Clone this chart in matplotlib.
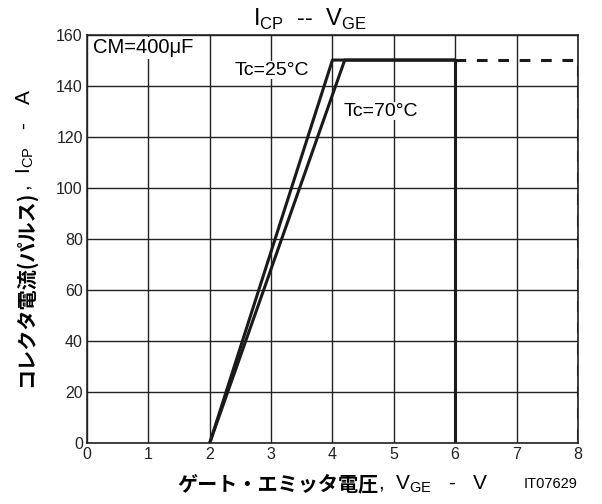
import numpy as np
import matplotlib
matplotlib.use("Agg")
import matplotlib.pyplot as plt

plt.rcParams['font.family'] = ['Liberation Sans', 'Noto Sans CJK JP', 'DejaVu Sans']

# curve data (V_GE in V, I_CP in A)
vge_25 = [2.0, 4.0, 6.0]
icp_25 = [0, 150, 150]
vge_70 = [2.0, 4.2, 6.0]
icp_70 = [0, 150, 150]
vge_limit = [6.0, 6.0]
icp_limit = [150, 0]
vge_dash = [6.0, 8.0, 8.0]
icp_dash = [150, 150, 0]

x_ticks = [0, 1, 2, 3, 4, 5, 6, 7, 8]
y_ticks = [0, 20, 40, 60, 80, 100, 120, 140, 160]

fig = plt.figure(figsize=(6.02, 5.04), dpi=100)
ax = fig.add_axes([0.1445, 0.121, 0.8155, 0.8105])

ax.plot(vge_25, icp_25, color='#1a1a1a', lw=2.2, solid_capstyle='butt')
ax.plot(vge_70, icp_70, color='#1a1a1a', lw=2.2, solid_capstyle='butt')
ax.plot(vge_limit, icp_limit, color='#1a1a1a', lw=2.2, solid_capstyle='butt')
ax.plot(vge_dash, icp_dash, color='#1a1a1a', lw=2.2, linestyle=(0, (3.5, 3.5)))

ax.set_xlim(0, 8)
ax.set_ylim(0, 160)
ax.set_xticks(x_ticks)
ax.set_yticks(y_ticks)
ax.tick_params(length=0, labelsize=11.5, pad=3, colors='#222222')
ax.grid(True, color='#222222', lw=1.0)
for s in ax.spines.values():
    s.set_color('#222222')
    s.set_linewidth(1.2)

ax.text(0.1, 158.5, 'CM=400\u03bcF', fontsize=14.5, va='top', ha='left',
        bbox=dict(facecolor='white', edgecolor='none', pad=1.0))
ax.text(2.4, 146, 'Tc=25\u00b0C', fontsize=14, va='center', ha='left',
        bbox=dict(facecolor='white', edgecolor='none', pad=0.3))
ax.text(4.19, 130, 'Tc=70\u00b0C', fontsize=14, va='center', ha='left',
        bbox=dict(facecolor='white', edgecolor='none', pad=0.3))

fig.text(0.515, 0.962, r'I$_{\mathregular{CP}}$  --  V$_{\mathregular{GE}}$',
         fontsize=17, ha='center', va='center')

# x label: bold Japanese part then plain symbol part
xl1 = fig.text(177 / 602, 0.040, 'ゲート・エミッタ電圧', fontsize=14.5, fontweight='bold',
               ha='left', va='center', family=['Noto Sans CJK JP'])
fig.canvas.draw()
bb = xl1.get_window_extent()
fig.text(bb.x1 / 602, 0.040, r',  V$_{\mathregular{GE}}$   -   V', fontsize=15,
         ha='left', va='center')
fig.text(0.960, 0.040, 'IT07629', fontsize=10.5, ha='right', va='center')

# y label: bold Japanese part then plain symbol part
yl1 = fig.text(0.042, (504 - 387) / 504, 'コレクタ電流(パルス)', fontsize=14.5,
               fontweight='bold', rotation=90, ha='center', va='bottom',
               family=['Noto Sans CJK JP'])
fig.canvas.draw()
bb = yl1.get_window_extent()
fig.text(0.042, bb.y1 / 504, r',  I$_{\mathregular{CP}}$   -   A', fontsize=15,
         rotation=90, ha='center', va='bottom')

fig.savefig('out.png', dpi=100)
